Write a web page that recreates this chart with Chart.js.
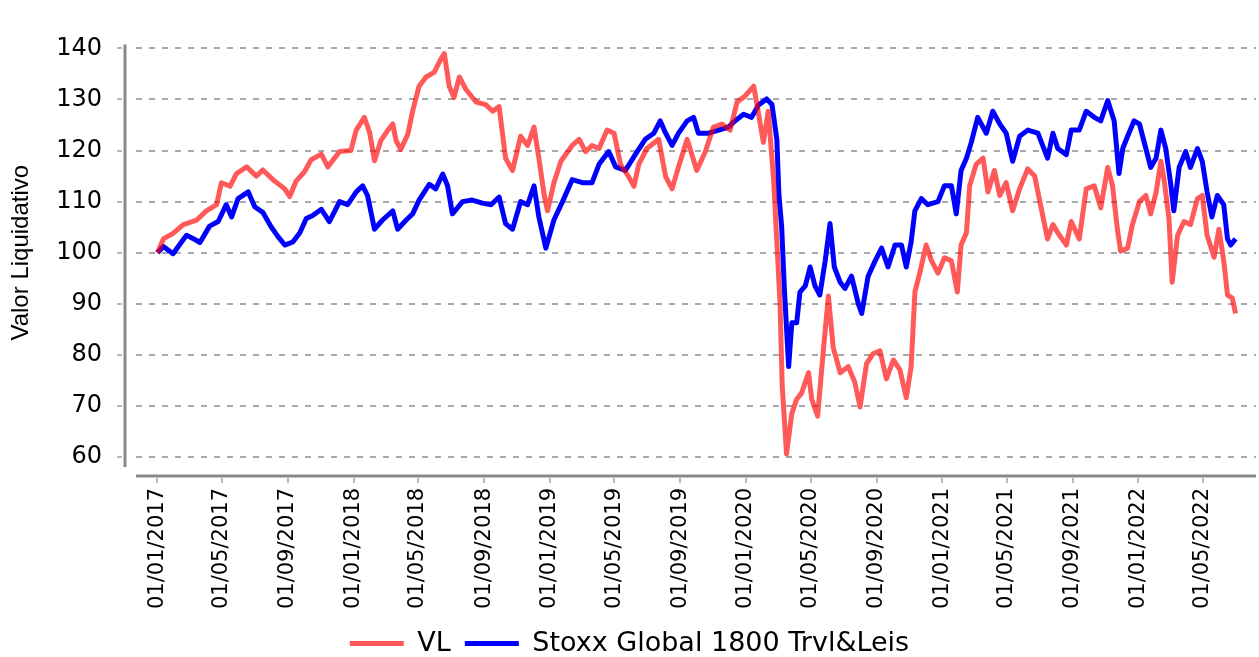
<!DOCTYPE html>
<html>
<head>
<meta charset="utf-8">
<script src="https://cdn.jsdelivr.net/npm/chart.js@4.4.1/dist/chart.umd.min.js"></script>
<style>
  html, body { margin: 0; padding: 0; background: #fff; }
  #wrap { width: 1259px; height: 657px; }
</style>
</head>
<body>
<div id="wrap"><canvas id="chart"></canvas></div>
<script>
// Fund NAV (VL) vs benchmark, rebased to 100 on 01/01/2017
const vlDates = ['2017-01-01','2017-01-12','2017-01-30','2017-02-18','2017-03-15','2017-04-02','2017-04-21','2017-04-30','2017-05-16','2017-05-28',
  '2017-06-16','2017-07-04','2017-07-16','2017-08-04','2017-08-26','2017-09-04','2017-09-16','2017-10-02','2017-10-14','2017-11-02',
  '2017-11-14','2017-12-06','2017-12-27','2018-01-06','2018-01-21','2018-01-31','2018-02-09','2018-02-21','2018-03-06','2018-03-15',
  '2018-03-21','2018-03-30','2018-04-12','2018-04-21','2018-05-03','2018-05-16','2018-05-31','2018-06-13','2018-06-19','2018-06-28',
  '2018-07-07','2018-07-17','2018-07-29','2018-08-17','2018-09-04','2018-09-17','2018-09-29','2018-10-11','2018-10-24','2018-11-08',
  '2018-11-21','2018-12-03','2018-12-12','2018-12-22','2018-12-28','2019-01-09','2019-01-22','2019-02-12','2019-02-25','2019-03-09',
  '2019-03-21','2019-04-03','2019-04-18','2019-05-01','2019-05-13','2019-05-28','2019-06-07','2019-06-16','2019-07-01','2019-07-23',
  '2019-08-05','2019-08-17','2019-08-29','2019-09-14','2019-10-02','2019-10-18','2019-11-02','2019-11-18','2019-12-03','2019-12-16',
  '2019-12-31','2020-01-16','2020-01-25','2020-02-03','2020-02-12','2020-02-22','2020-02-28','2020-03-05','2020-03-09','2020-03-17',
  '2020-03-27','2020-04-05','2020-04-14','2020-04-27','2020-05-03','2020-05-14','2020-05-25','2020-06-03','2020-06-12','2020-06-25',
  '2020-07-10','2020-07-22','2020-08-01','2020-08-13','2020-08-25','2020-09-07','2020-09-19','2020-10-02','2020-10-14','2020-10-26',
  '2020-11-04','2020-11-11','2020-11-20','2020-12-02','2020-12-12','2020-12-24','2021-01-05','2021-01-18','2021-01-29','2021-02-05',
  '2021-02-15','2021-02-21','2021-03-05','2021-03-18','2021-03-27','2021-04-08','2021-04-18','2021-04-30','2021-05-12','2021-05-25',
  '2021-06-09','2021-06-22','2021-07-04','2021-07-16','2021-07-26','2021-08-07','2021-08-20','2021-08-29','2021-09-13','2021-09-26',
  '2021-10-11','2021-10-23','2021-11-05','2021-11-14','2021-11-23','2021-11-29','2021-12-12','2021-12-21','2022-01-03','2022-01-15',
  '2022-01-24','2022-02-03','2022-02-12','2022-02-18','2022-02-27','2022-03-05','2022-03-15','2022-03-27','2022-04-08','2022-04-21',
  '2022-04-30','2022-05-09','2022-05-22','2022-05-31','2022-06-09','2022-06-16','2022-06-25','2022-07-01'];
const vlValues = [100,102.7,103.8,105.5,106.4,108.2,109.4,113.7,113,115.5,
  116.8,115,116.2,114.3,112.5,111,114,115.9,118.2,119.3,
  116.8,119.8,120,124,126.5,123.5,118,122,124,125.2,
  122,120.2,123.2,127.7,132.6,134.4,135.3,138,139,132.6,
  130.4,134.4,132,129.5,129,127.7,128.6,118.5,116.1,122.8,
  121,124.6,118.5,111.2,108.2,113.7,117.9,121,122.2,119.8,
  121,120.4,124,123.4,117.3,114.9,113,117.3,120.4,122.2,
  114.9,112.5,116.8,122.2,116.1,119.8,124.6,125.2,124,129.5,
  130.7,132.6,127.1,121.6,127.7,114.3,102.1,89.9,74,60.6,
  68.6,71.3,72.5,76.5,71.3,68,81.4,91.5,81.4,76.5,
  77.7,74.7,69.8,78.3,80.2,80.8,75.3,79,77.1,71.6,
  77.7,92.3,96,101.5,98.4,96,99,98.4,92.3,101.5,
  103.9,113.1,117.3,118.5,111.9,116.1,111.2,113.7,108.2,112.5,
  116.4,115,108.8,102.7,105.5,103.4,101.5,106.1,102.7,112.5,
  113.1,108.8,116.7,113.1,104.6,100.3,100.9,105.5,110,111.2,
  107.6,111.8,117.9,114.3,106.7,94.2,103.4,106.1,105.5,110.6,
  111.2,103.4,99.1,104.6,98.4,91.7,91.1,88.1];

const stoxxDates = ['2017-01-01','2017-01-12','2017-01-30','2017-02-12','2017-02-24','2017-03-08','2017-03-21','2017-04-08','2017-04-24','2017-05-09',
  '2017-05-19','2017-05-31','2017-06-19','2017-07-01','2017-07-16','2017-08-01','2017-08-13','2017-08-26','2017-09-10','2017-09-23',
  '2017-10-05','2017-10-17','2017-11-02','2017-11-17','2017-12-06','2017-12-21','2018-01-06','2018-01-18','2018-01-27','2018-02-09',
  '2018-02-24','2018-03-15','2018-03-24','2018-04-09','2018-04-21','2018-05-03','2018-05-22','2018-06-03','2018-06-16','2018-06-25',
  '2018-07-04','2018-07-23','2018-08-10','2018-08-29','2018-09-14','2018-09-29','2018-10-11','2018-10-24','2018-11-08','2018-11-21',
  '2018-12-03','2018-12-12','2018-12-25','2019-01-09','2019-01-25','2019-02-12','2019-03-03','2019-03-21','2019-04-03','2019-04-21',
  '2019-05-04','2019-05-22','2019-06-10','2019-06-28','2019-07-14','2019-07-26','2019-08-05','2019-08-17','2019-08-29','2019-09-14',
  '2019-09-26','2019-10-05','2019-10-24','2019-11-12','2019-11-30','2019-12-12','2019-12-28','2020-01-12','2020-01-25','2020-02-09',
  '2020-02-19','2020-02-28','2020-03-03','2020-03-08','2020-03-13','2020-03-21','2020-03-27','2020-04-05','2020-04-11','2020-04-21',
  '2020-04-30','2020-05-09','2020-05-18','2020-05-28','2020-06-06','2020-06-14','2020-06-25','2020-07-04','2020-07-16','2020-07-29',
  '2020-08-04','2020-08-16','2020-08-29','2020-09-10','2020-09-22','2020-10-05','2020-10-17','2020-10-26','2020-11-04','2020-11-11',
  '2020-11-23','2020-12-05','2020-12-24','2021-01-05','2021-01-18','2021-01-27','2021-02-05','2021-02-15','2021-02-24','2021-03-08',
  '2021-03-24','2021-04-05','2021-04-18','2021-04-30','2021-05-12','2021-05-25','2021-06-09','2021-06-28','2021-07-16','2021-07-26',
  '2021-08-04','2021-08-20','2021-08-29','2021-09-13','2021-09-26','2021-10-11','2021-10-23','2021-11-05','2021-11-17','2021-11-26',
  '2021-12-03','2021-12-12','2021-12-24','2022-01-03','2022-01-15','2022-01-24','2022-02-03','2022-02-12','2022-02-21','2022-03-02',
  '2022-03-08','2022-03-18','2022-03-30','2022-04-08','2022-04-21','2022-04-30','2022-05-09','2022-05-18','2022-05-28','2022-06-09',
  '2022-06-16','2022-06-22','2022-07-01'];
const stoxxValues = [100,101.2,99.8,101.7,103.4,102.8,102,105.2,106.1,109.4,
  107,110.6,111.9,109,107.9,105,103.2,101.5,102.1,103.9,
  106.7,107.3,108.5,106.1,110,109.4,111.9,113.1,111.2,104.6,
  106.4,108.2,104.6,106.4,107.6,110.3,113.4,112.5,115.4,113.1,
  107.6,110,110.3,109.7,109.4,110.9,105.7,104.6,110,109.4,
  113.1,107,100.9,106.4,110,114.3,113.7,113.7,117.3,119.8,
  116.8,116.1,119.3,122.2,123.4,125.8,123.4,121,123.4,125.8,
  126.5,123.4,123.4,124,124.6,125.8,127.1,126.5,128.9,130.1,
  129,122.2,111.2,105.1,93,77.7,86.3,86.3,92.3,93.5,
  97.2,93.5,91.7,98.4,105.7,97.2,94.2,93,95.4,89.9,
  88.1,95.4,98.4,100.9,97.2,101.5,101.5,97.2,102.1,108.2,
  110.6,109.4,110,113.1,113.1,107.6,116.1,118.5,121.6,126.5,
  123.4,127.7,125.2,123.4,117.9,122.8,124,123.4,118.5,123.4,
  120.4,119.2,124,124,127.7,126.5,125.8,129.8,125.8,115.5,
  120.4,122.8,125.8,125.2,120.4,116.7,118.5,124,120.4,113.7,
  108.2,116.7,119.8,116.7,120.4,117.9,111.9,107,111.2,109.4,
  102.7,101.5,102.7];

const seriesNames = ['VL', 'Stoxx Global 1800 Trvl&Leis'];
const tickLabels = ['01/01/2017','01/05/2017','01/09/2017','01/01/2018','01/05/2018','01/09/2018',
  '01/01/2019','01/05/2019','01/09/2019','01/01/2020','01/05/2020','01/09/2020',
  '01/01/2021','01/05/2021','01/09/2021','01/01/2022','01/05/2022'];
const xRange = ['2016-11-22', '2022-08-08'];

// layout numbers
const PAD_BOTTOM = -10;
const BELOW_PLOT = 200; // canvas height minus plot bottom

// helpers
const toTime = s => Date.parse(s + 'T00:00:00Z');
const labelToTime = s => { const [d, m, y] = s.split('/'); return Date.UTC(+y, +m - 1, +d); };
const pad2 = n => String(n).padStart(2, '0');
const fmtDate = v => { const d = new Date(v); return pad2(d.getUTCDate()) + '/' + pad2(d.getUTCMonth() + 1) + '/' + d.getUTCFullYear(); };
const toPoints = (dates, vals) => dates.map((d, i) => ({ x: toTime(d), y: vals[i] }));

// axis lines sit a little away from the plot area, like the original
const offsetAxes = {
    id: 'offsetAxes',
    afterDraw(chart) {
        const { ctx, chartArea: a, scales: { x, y } } = chart;
        ctx.save();
        ctx.strokeStyle = '#888';
        ctx.lineWidth = 3;
        ctx.beginPath();
        ctx.moveTo(a.left - 11, a.top - 4);
        ctx.lineTo(a.left - 11, a.bottom + 10);
        ctx.moveTo(a.left, a.bottom + 19);
        ctx.lineTo(a.right, a.bottom + 19);
        ctx.stroke();

        ctx.strokeStyle = '#b8b8b8';
        ctx.lineWidth = 2;
        ctx.beginPath();
        y.ticks.forEach(t => {
            const py = Math.round(y.getPixelForValue(t.value));
            ctx.moveTo(a.left - 19, py);
            ctx.lineTo(a.left - 14, py);
        });
        x.ticks.forEach(t => {
            const px = Math.round(x.getPixelForValue(t.value));
            ctx.moveTo(px, a.bottom + 21);
            ctx.lineTo(px, a.bottom + 26);
        });
        ctx.stroke();
        ctx.restore();
    }
};

Chart.defaults.font.family = "'DejaVu Sans', sans-serif";
Chart.defaults.color = '#000';

const ctx = document.getElementById('chart').getContext('2d');
new Chart(ctx, {
    type: 'line',
    data: {
        datasets: [{
            label: seriesNames[0],
            data: toPoints(vlDates, vlValues),
            borderColor: 'rgba(255, 0, 0, 0.65)',
            backgroundColor: 'rgba(255, 0, 0, 0.65)',
            borderWidth: 5,
            pointRadius: 0,
            tension: 0,
            borderJoinStyle: 'round'
        }, {
            label: seriesNames[1],
            data: toPoints(stoxxDates, stoxxValues),
            borderColor: '#0000ff',
            backgroundColor: '#0000ff',
            borderWidth: 5,
            pointRadius: 0,
            tension: 0,
            borderJoinStyle: 'round'
        }]
    },
    options: {
        responsive: true,
        maintainAspectRatio: false,
        animation: false,
        layout: { padding: { top: 19, right: 0, left: 0, bottom: PAD_BOTTOM } },
        plugins: {
            legend: {
                display: true,
                position: 'bottom',
                labels: {
                    font: { size: 27 },
                    usePointStyle: true,
                    pointStyle: 'line',
                    pointStyleWidth: 54,
                    boxWidth: 54,
                    padding: 14
                }
            },
            tooltip: { enabled: false }
        },
        scales: {
            x: {
                type: 'linear',
                min: toTime(xRange[0]),
                max: toTime(xRange[1]),
                grid: { display: false, drawTicks: false },
                border: { display: false },
                afterBuildTicks: scale => {
                    scale.ticks = tickLabels.map(s => ({ value: labelToTime(s) }));
                },
                afterFit: scale => {
                    scale.height = BELOW_PLOT - scale.chart.legend.height - PAD_BOTTOM;
                },
                ticks: {
                    autoSkip: false,
                    minRotation: 90,
                    maxRotation: 90,
                    padding: 31,
                    font: { size: 21 },
                    callback: value => fmtDate(value)
                }
            },
            y: {
                min: 60,
                max: 140,
                afterFit: scale => { scale.width = 136; },
                grid: {
                    color: '#a8a8a8',
                    lineWidth: 2,
                    drawTicks: false
                },
                border: { display: false, dash: [6, 7] },
                ticks: {
                    stepSize: 10,
                    padding: 34,
                    font: { size: 24 }
                },
                title: {
                    display: true,
                    text: 'Valor Liquidativo',
                    font: { family: "'Liberation Sans', Arial, sans-serif", size: 24 },
                    padding: { top: 7, bottom: 0 }
                }
            }
        }
    },
    plugins: [offsetAxes]
});
</script>
</body>
</html>
